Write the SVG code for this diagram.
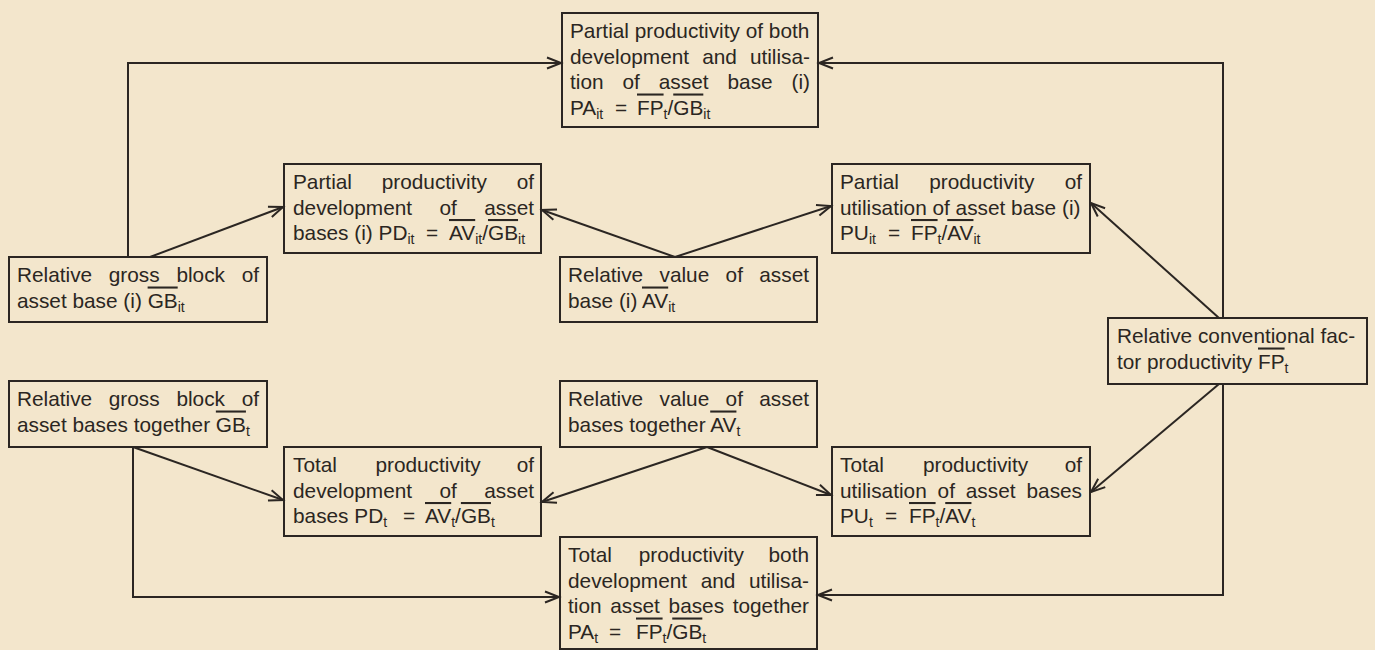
<svg xmlns="http://www.w3.org/2000/svg" width="1375" height="650" viewBox="0 0 1375 650">
<style>
.bx{fill:none;stroke:#2b2622;stroke-width:2}
.c{fill:none;stroke:#2b2622;stroke-width:2}
.t{font-family:"Liberation Sans",Arial,sans-serif;font-size:20.8px;fill:#2b2622}
.s{font-size:14px}
.o{text-decoration:overline}
</style>
<defs>
<marker id="ah" markerUnits="userSpaceOnUse" markerWidth="18" markerHeight="14" refX="15" refY="7" orient="auto" overflow="visible">
<path d="M1,1.5 L15,7 L1,12.5" fill="none" stroke="#2b2622" stroke-width="2"/>
</marker>
</defs>
<rect width="1375" height="650" fill="#f3e6cc"/>
<g id="connectors">
<path class="c" d="M128,257 V63 H561" marker-end="url(#ah)"/>
<path class="c" d="M1223,318 V63 H819" marker-end="url(#ah)"/>
<path class="c" d="M150,257 L283,207" marker-end="url(#ah)"/>
<path class="c" d="M675,257 L542,210" marker-end="url(#ah)"/>
<path class="c" d="M675,257 L831,206" marker-end="url(#ah)"/>
<path class="c" d="M1219,318 L1091,203" marker-end="url(#ah)"/>
<path class="c" d="M1219,384 L1091,492" marker-end="url(#ah)"/>
<path class="c" d="M1223,384 V595 H818" marker-end="url(#ah)"/>
<path class="c" d="M133,447 V597 H559" marker-end="url(#ah)"/>
<path class="c" d="M133,447 L283,500" marker-end="url(#ah)"/>
<path class="c" d="M707,447 L542,502" marker-end="url(#ah)"/>
<path class="c" d="M707,447 L831,495" marker-end="url(#ah)"/>
</g>
<g id="n-pa-it">
<rect class="bx" x="562" y="13" width="256" height="114"/>
<text class="t" x="570" y="38">Partial productivity of both</text>
<text class="t" y="63.5"><tspan x="570">development</tspan><tspan x="702.2">and</tspan><tspan x="749.9">utilisa-</tspan></text>
<text class="t" y="89"><tspan x="570">tion</tspan><tspan x="622.5">of</tspan><tspan x="658.8">asset</tspan><tspan x="727.5">base</tspan><tspan x="791.5">(i)</tspan></text>
<text class="t" x="570" y="114.5">PA<tspan class="s" dy="4">it</tspan><tspan x="615" dy="-4">=</tspan><tspan x="637" class="o">FP</tspan><tspan class="s" dy="4">t</tspan><tspan dy="-4">/</tspan><tspan class="o">GB</tspan><tspan class="s" dy="4">it</tspan></text>
</g>
<g id="n-pd-it">
<rect class="bx" x="284" y="164" width="257" height="89"/>
<text class="t" y="189"><tspan x="293">Partial</tspan><tspan x="381.7">productivity</tspan><tspan x="516.7">of</tspan></text>
<text class="t" y="214.5"><tspan x="293">development</tspan><tspan x="439.5">of</tspan><tspan x="484.3">asset</tspan></text>
<text class="t" x="293" y="240">bases (i) PD<tspan class="s" dy="4">it</tspan><tspan x="426" dy="-4">=</tspan><tspan x="449" class="o">AV</tspan><tspan class="s" dy="4">it</tspan><tspan dy="-4">/</tspan><tspan class="o">GB</tspan><tspan class="s" dy="4">it</tspan></text>
</g>
<g id="n-pu-it">
<rect class="bx" x="832" y="164" width="258" height="89"/>
<text class="t" y="189"><tspan x="840">Partial</tspan><tspan x="929.2">productivity</tspan><tspan x="1064.7">of</tspan></text>
<text class="t" x="840" y="214.5">utilisation of asset base (i)</text>
<text class="t" x="840" y="240">PU<tspan class="s" dy="4">it</tspan><tspan x="888" dy="-4">=</tspan><tspan x="911" class="o">FP</tspan><tspan class="s" dy="4">t</tspan><tspan dy="-4">/</tspan><tspan class="o">AV</tspan><tspan class="s" dy="4">it</tspan></text>
</g>
<g id="n-gb-it">
<rect class="bx" x="9" y="257" width="258" height="65"/>
<text class="t" y="282"><tspan x="17">Relative</tspan><tspan x="108.8">gross</tspan><tspan x="176.4">block</tspan><tspan x="241.7">of</tspan></text>
<text class="t" x="17" y="307.5">asset base (i) <tspan class="o">GB</tspan><tspan class="s" dy="4">it</tspan></text>
</g>
<g id="n-av-it">
<rect class="bx" x="560" y="257" width="257" height="65"/>
<text class="t" y="282"><tspan x="568">Relative</tspan><tspan x="659.5">value</tspan><tspan x="725.6">of</tspan><tspan x="759.3">asset</tspan></text>
<text class="t" x="568" y="307.5">base (i) <tspan class="o">AV</tspan><tspan class="s" dy="4">it</tspan></text>
</g>
<g id="n-fp">
<rect class="bx" x="1108" y="318" width="259" height="66"/>
<text class="t" x="1117" y="343">Relative conventional fac-</text>
<text class="t" x="1117" y="368.5">tor productivity <tspan class="o">FP</tspan><tspan class="s" dy="4">t</tspan></text>
</g>
<g id="n-gb-t">
<rect class="bx" x="9" y="381" width="258" height="66"/>
<text class="t" y="406"><tspan x="17">Relative</tspan><tspan x="108.8">gross</tspan><tspan x="176.4">block</tspan><tspan x="241.7">of</tspan></text>
<text class="t" x="17" y="431.5">asset bases together <tspan class="o">GB</tspan><tspan class="s" dy="4">t</tspan></text>
</g>
<g id="n-av-t">
<rect class="bx" x="560" y="381" width="257" height="66"/>
<text class="t" y="406"><tspan x="568">Relative</tspan><tspan x="659.5">value</tspan><tspan x="725.6">of</tspan><tspan x="759.3">asset</tspan></text>
<text class="t" x="568" y="431.5">bases together <tspan class="o">AV</tspan><tspan class="s" dy="4">t</tspan></text>
</g>
<g id="n-pd-t">
<rect class="bx" x="284" y="447" width="257" height="89"/>
<text class="t" y="472"><tspan x="293">Total</tspan><tspan x="375.4">productivity</tspan><tspan x="516.7">of</tspan></text>
<text class="t" y="497.5"><tspan x="293">development</tspan><tspan x="439.5">of</tspan><tspan x="484.3">asset</tspan></text>
<text class="t" x="293" y="523">bases PD<tspan class="s" dy="4">t</tspan><tspan x="403" dy="-4">=</tspan><tspan x="425" class="o">AV</tspan><tspan class="s" dy="4">t</tspan><tspan dy="-4">/</tspan><tspan class="o">GB</tspan><tspan class="s" dy="4">t</tspan></text>
</g>
<g id="n-pu-t">
<rect class="bx" x="832" y="447" width="258" height="89"/>
<text class="t" y="472"><tspan x="840">Total</tspan><tspan x="922.9">productivity</tspan><tspan x="1064.7">of</tspan></text>
<text class="t" y="497.5"><tspan x="840">utilisation</tspan><tspan x="937.6">of</tspan><tspan x="965.8">asset</tspan><tspan x="1026.5">bases</tspan></text>
<text class="t" x="840" y="523">PU<tspan class="s" dy="4">t</tspan><tspan x="885" dy="-4">=</tspan><tspan x="909" class="o">FP</tspan><tspan class="s" dy="4">t</tspan><tspan dy="-4">/</tspan><tspan class="o">AV</tspan><tspan class="s" dy="4">t</tspan></text>
</g>
<g id="n-pa-t">
<rect class="bx" x="560" y="537" width="257" height="112"/>
<text class="t" y="562"><tspan x="568">Total</tspan><tspan x="638.8">productivity</tspan><tspan x="768.5">both</tspan></text>
<text class="t" y="587.5"><tspan x="568">development</tspan><tspan x="700.7">and</tspan><tspan x="748.9">utilisa-</tspan></text>
<text class="t" y="613"><tspan x="568">tion</tspan><tspan x="610.2">asset</tspan><tspan x="668.6">bases</tspan><tspan x="732.7">together</tspan></text>
<text class="t" x="568" y="638.5">PA<tspan class="s" dy="4">t</tspan><tspan x="609" dy="-4">=</tspan><tspan x="636" class="o">FP</tspan><tspan class="s" dy="4">t</tspan><tspan dy="-4">/</tspan><tspan class="o">GB</tspan><tspan class="s" dy="4">t</tspan></text>
</g>
</svg>
